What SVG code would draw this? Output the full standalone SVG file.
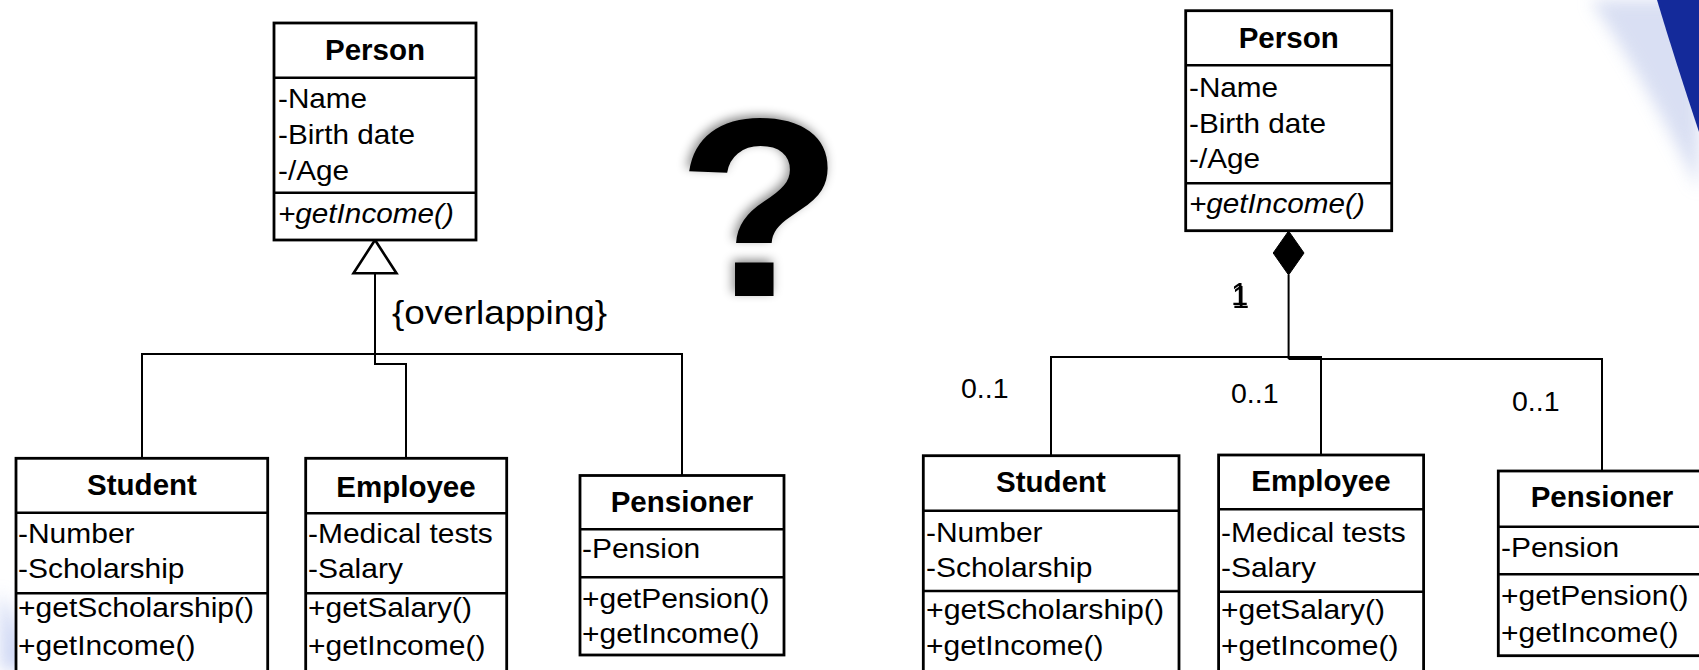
<svg xmlns="http://www.w3.org/2000/svg" width="1699" height="670" viewBox="0 0 1699 670">
  <style>
    .box { fill: #ffffff; stroke: #000000; stroke-width: 2.8; }
    .div { stroke: #000000; stroke-width: 2.6; fill: none; }
    .wire { stroke: #000000; stroke-width: 2; fill: none; }
    .title { font-family: "Liberation Sans", Arial, sans-serif; font-weight: bold; font-size: 29.5px; text-anchor: middle; fill: #000000; }
    .t { font-family: "Liberation Sans", Arial, sans-serif; font-size: 27px; fill: #000000; }
    .it { font-style: italic; }
    .note { font-family: "Liberation Sans", Arial, sans-serif; font-size: 33.5px; fill: #000000; }
    .mult { font-family: "Liberation Sans", Arial, sans-serif; font-size: 28.5px; fill: #000000; }
  </style>
  <defs>
    <filter id="soft" x="-50%" y="-50%" width="200%" height="200%">
      <feGaussianBlur stdDeviation="8"/>
    </filter>
    <filter id="qshadow" x="-30%" y="-30%" width="160%" height="160%">
      <feDropShadow dx="-2" dy="-3" stdDeviation="5" flood-color="#000000" flood-opacity="0.45"/>
    </filter>
    <!-- doubled print of the multiplicity digit -->
    <filter id="ghost" x="-50%" y="-50%" width="200%" height="200%">
      <feOffset in="SourceGraphic" dx="-1" dy="-3" result="off"/>
      <feMerge>
        <feMergeNode in="off"/>
        <feMergeNode in="SourceGraphic"/>
      </feMerge>
    </filter>
  </defs>

  <rect width="1699" height="670" fill="#ffffff"/>

  <!-- corner decoration -->
  <path d="M1590,0 Q1640,70 1699,190 L1699,0 Z" fill="#c9d2ee" opacity="0.7" filter="url(#soft)"/>
  <path d="M1657,0 Q1675,60 1699,132 L1699,0 Z" fill="#142a9a"/>
  <path d="M0,590 Q22,630 34,670 L0,670 Z" fill="#c6d0f2" opacity="0.8" filter="url(#soft)"/>

  <!-- question mark -->
  <g id="question">
    <text transform="translate(760,296) scale(1.07,1)" font-family="Liberation Sans, Arial, sans-serif" font-weight="bold" font-size="255" text-anchor="middle" fill="#050505" filter="url(#qshadow)">?</text>
  </g>

  <!-- connectors -->
  <g id="connectors">
    <!-- generalization (left) -->
    <polyline class="wire" points="375,273 375,364 406,364 406,458"/>
    <polyline class="wire" points="142,458 142,354 682,354 682,475"/>
    <polygon points="375,240 353.5,273.3 396.5,273.3" fill="#ffffff" stroke="#000000" stroke-width="2.6"/>
    <text class="note" transform="translate(392,324) scale(1.1,1)">{overlapping}</text>
    <!-- composition (right) -->
    <polyline class="wire" points="1288.6,275 1288.6,359"/>
    <polyline class="wire" points="1051,455.7 1051,357 1321,357 1321,455"/>
    <polyline class="wire" points="1288.6,359 1602,359 1602,471"/>
    <polygon points="1288.6,231 1304,253 1288.6,275 1273.2,253" fill="#000000" stroke="#000000" stroke-width="1"/>
    <text class="mult" x="1232" y="308" style="font-size:31px" filter="url(#ghost)">1</text>
    <text class="mult" x="961" y="398.3">0..1</text>
    <text class="mult" x="1231" y="403.3">0..1</text>
    <text class="mult" x="1512" y="411">0..1</text>
  </g>

  <!-- left diagram -->
  <g id="person-left">
    <rect class="box" x="274" y="23" width="202" height="217"/>
    <line class="div" x1="274" y1="77.7" x2="476" y2="77.7"/>
    <line class="div" x1="274" y1="192.7" x2="476" y2="192.7"/>
    <text class="title" x="375" y="60">Person</text>
    <text class="t" transform="translate(278,107.5) scale(1.1,1)">-Name</text>
    <text class="t" transform="translate(278,143.5) scale(1.1,1)">-Birth date</text>
    <text class="t" transform="translate(278,180) scale(1.1,1)">-/Age</text>
    <text class="t it" transform="translate(278,223) scale(1.1,1)">+getIncome()</text>
  </g>

  <g id="student-left">
    <rect class="box" x="16" y="458.3" width="251.7" height="230"/>
    <line class="div" x1="16" y1="512.7" x2="267.7" y2="512.7"/>
    <line class="div" x1="16" y1="593.3" x2="267.7" y2="593.3"/>
    <text class="title" x="142" y="495">Student</text>
    <text class="t" transform="translate(18,543) scale(1.11,1)">-Number</text>
    <text class="t" transform="translate(18,578) scale(1.11,1)">-Scholarship</text>
    <text class="t" transform="translate(18,617)" textLength="236" lengthAdjust="spacingAndGlyphs">+getScholarship()</text>
    <text class="t" transform="translate(18,655) scale(1.11,1)">+getIncome()</text>
  </g>

  <g id="employee-left">
    <rect class="box" x="305.7" y="458.3" width="201" height="230"/>
    <line class="div" x1="305.7" y1="513.3" x2="506.7" y2="513.3"/>
    <line class="div" x1="305.7" y1="593.3" x2="506.7" y2="593.3"/>
    <text class="title" x="406" y="496.7">Employee</text>
    <text class="t" transform="translate(308,543) scale(1.11,1)">-Medical tests</text>
    <text class="t" transform="translate(308,578) scale(1.11,1)">-Salary</text>
    <text class="t" transform="translate(308,617) scale(1.11,1)">+getSalary()</text>
    <text class="t" transform="translate(308,655) scale(1.11,1)">+getIncome()</text>
  </g>

  <g id="pensioner-left">
    <rect class="box" x="580" y="475.5" width="204" height="179.5"/>
    <line class="div" x1="580" y1="529.3" x2="784" y2="529.3"/>
    <line class="div" x1="580" y1="577.3" x2="784" y2="577.3"/>
    <text class="title" x="682" y="511.7">Pensioner</text>
    <text class="t" transform="translate(582,558.3) scale(1.11,1)">-Pension</text>
    <text class="t" transform="translate(582,608.3) scale(1.11,1)">+getPension()</text>
    <text class="t" transform="translate(582,643.3) scale(1.11,1)">+getIncome()</text>
  </g>

  <!-- right diagram -->
  <g id="person-right">
    <rect class="box" x="1185.7" y="10.7" width="206" height="220"/>
    <line class="div" x1="1185.7" y1="65.3" x2="1391.7" y2="65.3"/>
    <line class="div" x1="1185.7" y1="183.3" x2="1391.7" y2="183.3"/>
    <text class="title" x="1288.7" y="48.3">Person</text>
    <text class="t" transform="translate(1189,96.7) scale(1.1,1)">-Name</text>
    <text class="t" transform="translate(1189,133) scale(1.1,1)">-Birth date</text>
    <text class="t" transform="translate(1189,168.3) scale(1.1,1)">-/Age</text>
    <text class="t it" transform="translate(1189,213.3) scale(1.1,1)">+getIncome()</text>
  </g>

  <g id="student-right">
    <rect class="box" x="923.3" y="455.7" width="255.7" height="230"/>
    <line class="div" x1="923.3" y1="510.7" x2="1179" y2="510.7"/>
    <line class="div" x1="923.3" y1="591" x2="1179" y2="591"/>
    <text class="title" x="1051" y="492.3">Student</text>
    <text class="t" transform="translate(926,541.7) scale(1.11,1)">-Number</text>
    <text class="t" transform="translate(926,576.7) scale(1.11,1)">-Scholarship</text>
    <text class="t" transform="translate(926,619)" textLength="238" lengthAdjust="spacingAndGlyphs">+getScholarship()</text>
    <text class="t" transform="translate(926,655) scale(1.11,1)">+getIncome()</text>
  </g>

  <g id="employee-right">
    <rect class="box" x="1218.6" y="455" width="205" height="230"/>
    <line class="div" x1="1218.6" y1="509.3" x2="1423.6" y2="509.3"/>
    <line class="div" x1="1218.6" y1="591.7" x2="1423.6" y2="591.7"/>
    <text class="title" x="1321" y="491">Employee</text>
    <text class="t" transform="translate(1221,541.7) scale(1.11,1)">-Medical tests</text>
    <text class="t" transform="translate(1221,576.7) scale(1.11,1)">-Salary</text>
    <text class="t" transform="translate(1221,619) scale(1.11,1)">+getSalary()</text>
    <text class="t" transform="translate(1221,655) scale(1.11,1)">+getIncome()</text>
  </g>

  <g id="pensioner-right">
    <rect class="box" x="1498.3" y="471" width="208" height="184.7"/>
    <line class="div" x1="1498.3" y1="526.7" x2="1706.3" y2="526.7"/>
    <line class="div" x1="1498.3" y1="574.3" x2="1706.3" y2="574.3"/>
    <text class="title" x="1602" y="506.7">Pensioner</text>
    <text class="t" transform="translate(1501,556.7) scale(1.11,1)">-Pension</text>
    <text class="t" transform="translate(1501,605) scale(1.11,1)">+getPension()</text>
    <text class="t" transform="translate(1501,641.7) scale(1.11,1)">+getIncome()</text>
  </g>
</svg>
